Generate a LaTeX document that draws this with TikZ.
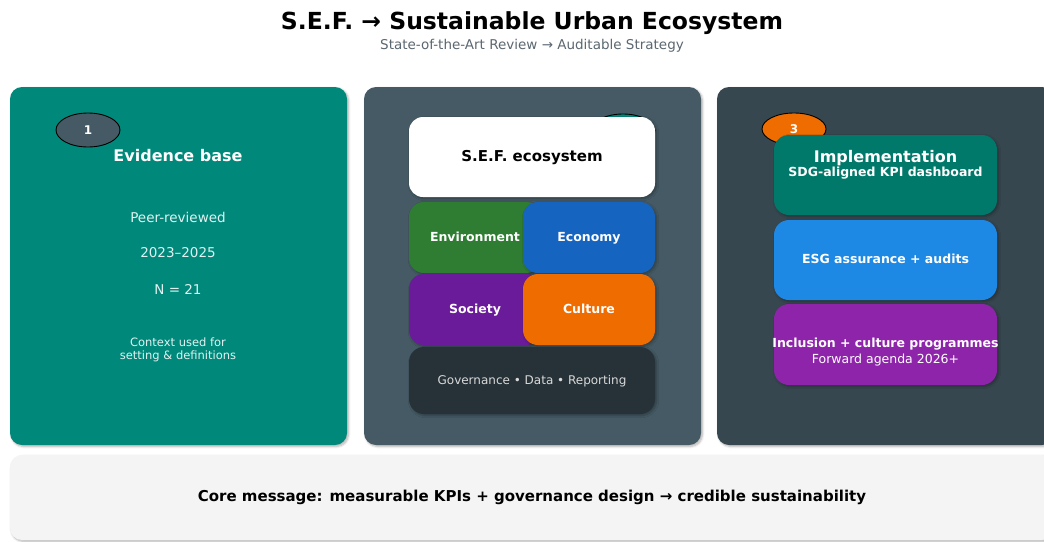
\documentclass[tikz,border=0pt]{standalone}
\usepackage{fontspec}
\setmainfont{DejaVu Sans}
\usetikzlibrary{shapes.geometric,shadows.blur}

\definecolor{paneltealc}{HTML}{00897B}
\definecolor{panelslate}{HTML}{455A64}
\definecolor{paneldark}{HTML}{37474F}
\definecolor{implteal}{HTML}{00796B}
\definecolor{esgblue}{HTML}{1E88E5}
\definecolor{inclpurple}{HTML}{8E24AA}
\definecolor{envgreen}{HTML}{2E7D32}
\definecolor{ecoblue}{HTML}{1565C0}
\definecolor{socpurple}{HTML}{6A1B9A}
\definecolor{cultorange}{HTML}{EF6C00}
\definecolor{govdark}{HTML}{263238}
\definecolor{subgray}{HTML}{5B6770}
\definecolor{coregray}{HTML}{F4F4F4}
\definecolor{paletext}{HTML}{E0F2F1}

\begin{document}
\begin{tikzpicture}[x=1pt,y=-1pt,
        soft/.style={blur shadow={shadow xshift=1.5pt,shadow yshift=-1.5pt,shadow blur steps=6,shadow opacity=30}},
        panel/.style={rectangle,rounded corners=12pt,minimum width=337pt,minimum height=358pt,inner sep=0pt,soft},
        tag/.style={inner sep=0pt,text=white,text height=9.5pt,text depth=2.5pt,
            font=\bfseries\fontsize{12.5}{15}\selectfont},
        block/.style={tag,rectangle,rounded corners=15pt,soft},
        badge/.style={ellipse,draw=black,line width=0.9pt,minimum width=64pt,minimum height=34pt,
            inner sep=0pt,text=white,font=\bfseries\fontsize{12}{14}\selectfont},
        head/.style={text=white,font=\bfseries\fontsize{16}{19}\selectfont},
        fact/.style={text=paletext,font=\fontsize{13.5}{16}\selectfont}
    ]
    \useasboundingbox (0,0) rectangle (1044,541);
    \clip (0,0) rectangle (1044,541);

    % title lines
    \node[font=\bfseries\fontsize{23.5}{28}\selectfont] (title) at (532,23)
        {S.E.F. → Sustainable Urban Ecosystem};
    \node[text=subgray,font=\fontsize{13.5}{16}\selectfont] (subtitle) at (532,46)
        {State-of-the-Art Review → Auditable Strategy};

    % three columns
    \node[panel,fill=paneltealc] (evidence) at (178.5,266) {};
    \node[panel,fill=panelslate] (ecosystem) at (532.5,266) {};
    \node[panel,fill=paneldark] (implement) at (885.5,266) {};

    % column 1: evidence base
    \node[badge,fill=panelslate] (b1) at (88,130) {1};
    \node[head] (evhead) at (178,156) {Evidence base};
    \node[fact] (peer)  at (178,217) {Peer-reviewed};
    \node[fact] (years) at (178,253) {2023–2025};
    \node[fact] (count) at (178,289) {N = 21};
    \node[text=paletext,align=center,font=\fontsize{11.5}{13}\selectfont] (context) at (178,349.5)
        {Context used for\\setting \& definitions};

    % column 2: ecosystem stack
    \node[badge,fill=paneltealc] (b2) at (623,131) {};
    \node[block,fill=white,text=black,font=\bfseries\fontsize{15}{18}\selectfont,
        text height=11pt,text depth=3pt,
        minimum width=246pt,minimum height=80pt,rounded corners=14pt] (sef) at (532,157) {S.E.F. ecosystem};
    \node[block,fill=envgreen,minimum width=132pt,minimum height=71pt] (env) at (475,237.5) {};
    \node[block,fill=ecoblue,minimum width=132pt,minimum height=71pt] (eco) at (589,237.5) {Economy};
    \node[tag] (envtxt) at (475,237.5) {Environment};
    \node[block,fill=socpurple,minimum width=132pt,minimum height=71pt] (soc) at (475,309.5) {Society};
    \node[block,fill=cultorange,minimum width=132pt,minimum height=71pt] (cult) at (589,309.5) {Culture};
    \node[block,fill=govdark,text=black!15,font=\fontsize{12}{14}\selectfont,
        minimum width=246pt,minimum height=67pt] (gov) at (532,380.5) {Governance • Data • Reporting};

    % column 3: implementation steps
    \node[badge,fill=cultorange,minimum height=32pt] (b3) at (794,129) {3};
    \node[block,fill=implteal,minimum width=223pt,minimum height=80pt] (kpi) at (885.5,175) {};
    \node[white,align=center,font=\bfseries\fontsize{12.5}{15}\selectfont] (kpitxt) at (885.5,165)
        {{\fontsize{16}{19}\selectfont Implementation}\\[-1pt]SDG-aligned KPI dashboard};
    \node[block,fill=esgblue,minimum width=223pt,minimum height=80pt] (esg) at (885.5,260) {ESG assurance + audits};
    \node[block,fill=inclpurple,minimum width=223pt,minimum height=81pt] (incl) at (885.5,344.5) {};
    \node[white,align=center,font=\bfseries\fontsize{12.5}{15}\selectfont] (incltxt) at (885.5,352)
        {Inclusion + culture programmes\\[1pt]{\mdseries Forward agenda 2026+}};

    % closing message
    \node[rectangle,rounded corners=12pt,fill=coregray,minimum width=1044pt,minimum height=85pt,
        inner sep=0pt,soft] (core) at (532,497.5) {};
    \node[font=\bfseries\fontsize{15}{18}\selectfont] (coretxt) at (532,497)
        {Core message: measurable KPIs + governance design → credible sustainability};
\end{tikzpicture}
\end{document}
